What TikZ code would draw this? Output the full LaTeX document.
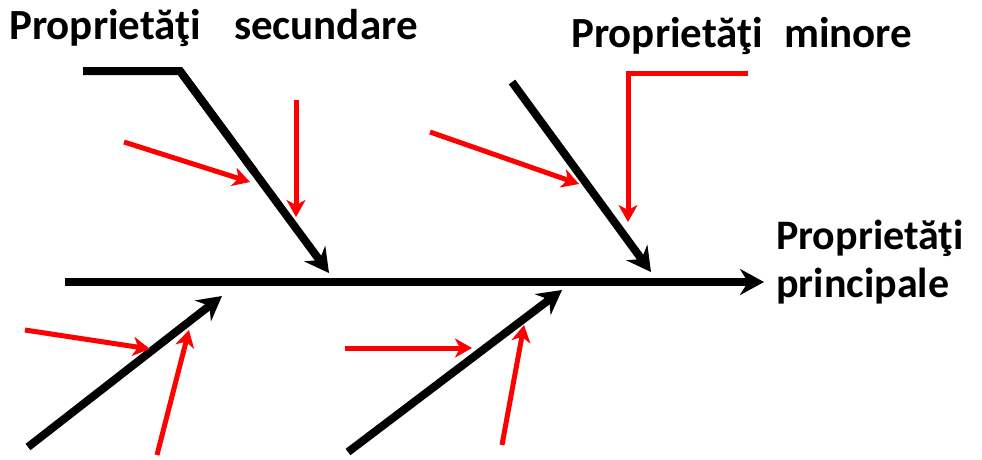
\documentclass[tikz,border=0pt]{standalone}
\usepackage{fontspec}
\setmainfont{Carlito}
\usetikzlibrary{arrows.meta,calc}
\begin{document}
\begin{tikzpicture}[x=1pt,y=-1pt,
  bone/.style={line width=8pt,-{Stealth[length=24pt,width=26pt,inset=8pt]}},
  bonenh/.style={line width=8pt},
  rib/.style={red,line width=5pt,-{Stealth[length=17pt,width=19pt,inset=5pt]}},
  lbl/.style={font=\bfseries\fontsize{43}{48}\selectfont,inner sep=0pt,anchor=base west}]
\useasboundingbox (0,0) rectangle (982,459);
% spine
\coordinate (s0) at (65,282);
\coordinate (s1) at (764,282);
\draw[bone] (s0) -- (s1);
% upper left
\coordinate (ul0) at (83,71);
\coordinate (ul1) at (180,71);
\coordinate (ul2) at (329,273);
\draw[bonenh,line join=miter] (ul0) -- (ul1) -- ($(ul1)!0.5!(ul2)$);
\draw[bone] (ul1) -- (ul2);
\coordinate (r1a) at (124,142); \coordinate (r1b) at (250,182);
\draw[rib] (r1a) -- (r1b);
\coordinate (r2a) at (296,100); \coordinate (r2b) at (296,217);
\draw[rib] (r2a) -- (r2b);
% upper right
\coordinate (ur0) at (512,82); \coordinate (ur1) at (651,272);
\draw[bone] (ur0) -- (ur1);
\coordinate (r3a) at (430,132); \coordinate (r3b) at (579,184);
\draw[rib] (r3a) -- (r3b);
\coordinate (r4a) at (748,73); \coordinate (r4m) at (628,73); \coordinate (r4b) at (628,222);
\draw[rib,line join=miter] (r4a) -- (r4m) -- (r4b);
% lower left
\coordinate (ll0) at (28,447); \coordinate (ll1) at (222,296);
\draw[bone] (ll0) -- (ll1);
\coordinate (r5a) at (25,330); \coordinate (r5b) at (150,349);
\draw[rib] (r5a) -- (r5b);
\coordinate (r6a) at (157,455); \coordinate (r6b) at (189,330);
\draw[rib] (r6a) -- (r6b);
% lower right
\coordinate (lr0) at (348,452); \coordinate (lr1) at (562,290);
\draw[bone] (lr0) -- (lr1);
\coordinate (r7a) at (345,348); \coordinate (r7b) at (472,348);
\draw[rib] (r7a) -- (r7b);
\coordinate (r8a) at (502,445); \coordinate (r8b) at (524,325);
\draw[rib] (r8a) -- (r8b);
% labels
\node[lbl] (t1) at (9,39) {Proprietăţi\hspace{33pt}secundare};
\node[lbl] (t2) at (571,47) {Proprietăţi\hspace{21pt}minore};
\node[lbl,font=\bfseries\fontsize{42}{48}\selectfont,align=left] (t3) at (776,297) {Proprietăţi\\principale};
\end{tikzpicture}
\end{document}
